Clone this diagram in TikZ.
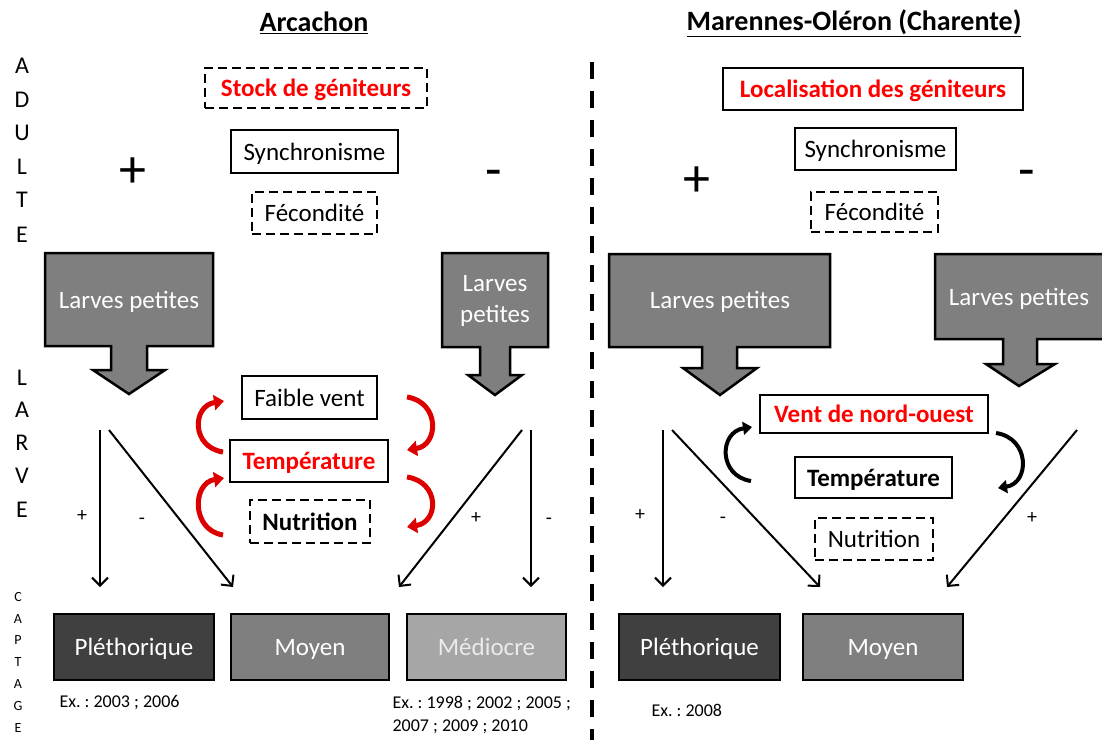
\documentclass[tikz,border=0pt]{standalone}
\usepackage{fontspec}
\setmainfont{Carlito}
\usetikzlibrary{arrows.meta}
\definecolor{blkgray}{HTML}{7F7F7F}
\definecolor{dkgray}{HTML}{404040}
\definecolor{ltgray}{HTML}{A6A6A6}
\definecolor{myred}{HTML}{FF0000}
\definecolor{crvred}{HTML}{DD0000}
\frenchspacing
\begin{document}
\begin{tikzpicture}[x=1pt,y=-1pt,
  f24/.style={font=\fontsize{25}{29}\selectfont, text height=20pt, text depth=3pt},
  box/.style={draw, line width=2pt, inner sep=0pt, f24},
  dbox/.style={box, dash pattern=on 9pt off 5pt},
  redb/.style={text=myred, font=\fontsize{25}{29}\selectfont\bfseries},
  bold/.style={font=\fontsize{25}{29}\selectfont\bfseries},
  blk/.style={draw, line width=2.5pt, fill=blkgray, line join=miter},
  wtxt/.style={text=white, f24, align=center},
  res/.style={draw, line width=1.5pt, text=white, f24, inner sep=0pt, minimum height=66pt},
  conn/.style={line width=2pt, -{Straight Barb[length=8pt,width=16pt,line width=2pt]}},
  curvr/.style={line width=5pt, crvred, -{Triangle[length=10pt,width=15pt]}},
  curvb/.style={line width=4pt, black, -{Triangle[length=9pt,width=13pt]}},
  letter/.style={font=\fontsize{24}{28}\selectfont, anchor=center},
  small/.style={font=\fontsize{14}{16}\selectfont},
  ex/.style={font=\fontsize{18}{23}\selectfont, anchor=west, align=left},
  bigsign/.style={font=\fontsize{54}{60}\selectfont},
  sign/.style={font=\fontsize{20}{24}\selectfont},
  title/.style={font=\fontsize{28}{32}\selectfont\bfseries}
]
\useasboundingbox (0,0) rectangle (1102,740);

% titles
\node[title] (t1) at (314,23) {\underline{Arcachon}};
\node[title] (t2) at (854,23) {\underline{Marennes-Oléron (Charente)}};

% separator
\draw[line width=4pt, dash pattern=on 17pt off 12pt] (592,62) -- (592,740);

% side letters
\foreach \l/\y in {A/66,D/100,U/133,L/167,T/200,E/235}{\node[letter] at (22,\y) {\l};}
\foreach \l/\y in {L/378,A/410,R/443,V/476,E/510}{\node[letter] at (22,\y) {\l};}
\foreach \l/\y in {C/597,A/619,P/640,T/662,A/684,G/706,E/728}{\node[small] at (18,\y) {\l};}

% adult factors left
\node[dbox, redb, minimum width=222pt, minimum height=40pt] (stock) at (316,88) {Stock de géniteurs};
\node[box, minimum width=167pt, minimum height=43pt] (sync1) at (314.5,151.5) {Synchronisme};
\node[dbox, minimum width=125pt, minimum height=42pt] (fec1) at (314.5,213) {Fécondité};
\node[bigsign] (pl1) at (133,173) {+};
\node[bigsign] (mi1) at (494,179) {-};

% adult factors right
\node[box, redb, minimum width=300pt, minimum height=42pt] (loc) at (873,89) {Localisation des géniteurs};
\node[box, minimum width=161pt, minimum height=42pt] (sync2) at (875.5,149) {Synchronisme};
\node[dbox, minimum width=127pt, minimum height=40pt] (fec2) at (874.5,212) {Fécondité};
\node[bigsign] (pl2) at (697,182) {+};
\node[bigsign] (mi2) at (1027,179) {-};

% block arrows
\draw[blk] (45,253) -- (213,253) -- (213,346) -- (147,346) -- (147,370) -- (165,370) -- (129,394) -- (93,370) -- (111,370) -- (111,346) -- (45,346) -- cycle;
\node[wtxt] (lp1) at (129,300) {Larves petites};
\draw[blk] (442,253) -- (548,253) -- (548,347) -- (510,347) -- (510,375) -- (522,375) -- (495,395) -- (468,375) -- (480,375) -- (480,347) -- (442,347) -- cycle;
\node[wtxt, font=\fontsize{25}{31}\selectfont, text height=, text depth=] (lp2) at (495,301) {Larves\\petites};
\draw[blk] (609,254) -- (830,254) -- (830,347) -- (737,347) -- (737,368) -- (757,368) -- (720,395) -- (683,368) -- (702,368) -- (702,347) -- (609,347) -- cycle;
\node[wtxt] (lp3) at (720,300) {Larves petites};
\draw[blk] (935,254) -- (1106,254) -- (1106,339) -- (1037,339) -- (1037,364) -- (1055,364) -- (1019,386) -- (986,364) -- (1003,364) -- (1003,339) -- (935,339) -- cycle;
\node[wtxt] (lp4) at (1019,297) {Larves petites};

% larval factors left
\node[box, minimum width=135pt, minimum height=43pt] (faible) at (309.5,397.5) {Faible vent};
\node[box, redb, minimum width=158pt, minimum height=42pt] (temp1) at (309,461) {Température};
\node[dbox, bold, minimum width=120pt, minimum height=43pt] (nutr1) at (310,521.5) {Nutrition};

% larval factors right
\node[box, redb, minimum width=228pt, minimum height=38pt] (vent) at (874,414) {Vent de nord-ouest};
\node[box, bold, minimum width=157pt, minimum height=41pt] (temp2) at (873.5,477.5) {Température};
\node[dbox, minimum width=118pt, minimum height=42pt] (nutr2) at (874,539) {Nutrition};

% curved arrows
\coordinate (cl1s) at (223,452); \coordinate (cl1e) at (224,401);
\coordinate (cl2s) at (223,535); \coordinate (cl2e) at (224,478);
\coordinate (cr1s) at (407,397); \coordinate (cr1e) at (407,450);
\coordinate (cr2s) at (407,477); \coordinate (cr2e) at (407,527);
\draw[curvr] (cl1s) .. controls (191,447) and (192,406) .. (cl1e);
\draw[curvr] (cl2s) .. controls (191,530) and (192,483) .. (cl2e);
\draw[curvr] (cr1s) .. controls (440,402) and (439,445) .. (cr1e);
\draw[curvr] (cr2s) .. controls (440,482) and (439,522) .. (cr2e);
\coordinate (bl1s) at (751,481); \coordinate (bl1e) at (752,427);
\coordinate (br1s) at (996,433); \coordinate (br1e) at (998,488);
\draw[curvb] (bl1s) .. controls (718,476) and (719,432) .. (bl1e);
\draw[curvb] (br1s) .. controls (1030,438) and (1030,483) .. (br1e);

% result boxes
\node[res, fill=dkgray, minimum width=160pt] (p1) at (134,647) {Pléthorique};
\node[res, fill=blkgray, minimum width=158pt] (m1) at (310,647) {Moyen};
\node[res, fill=ltgray, minimum width=159pt, text=white!92!black] (md1) at (486.5,647) {Médiocre};
\node[res, fill=dkgray, minimum width=161pt] (p2) at (699.5,647) {Pléthorique};
\node[res, fill=blkgray, minimum width=160pt] (m2) at (883,647) {Moyen};

% straight connectors
\coordinate (s1) at (100,430); \coordinate (e1) at (100,587);
\coordinate (s2) at (109,430); \coordinate (e2) at (233,587);
\coordinate (s3) at (522,430); \coordinate (e3) at (399,587);
\coordinate (s4) at (531,430); \coordinate (e4) at (531,587);
\coordinate (s5) at (663,430); \coordinate (e5) at (663,587);
\coordinate (s6) at (672,430); \coordinate (e6) at (820,587);
\coordinate (s7) at (1077,430); \coordinate (e7) at (947,587);
\draw[conn] (s1) -- (e1);
\draw[conn] (s2) -- (e2);
\draw[conn] (s3) -- (e3);
\draw[conn] (s4) -- (e4);
\draw[conn] (s5) -- (e5);
\draw[conn] (s6) -- (e6);
\draw[conn] (s7) -- (e7);
\node[sign] (sp1) at (82,516) {+};
\node[sign] (sm1) at (142,521) {-};
\node[sign] (sp2) at (476,518) {+};
\node[sign] (sm2) at (549,521) {-};
\node[sign] (sp3) at (640,515) {+};
\node[sign] (sm3) at (723,520) {-};
\node[sign] (sp4) at (1032,518) {+};

% examples
\node[ex] (x1) at (56,703) {Ex. : 2003 ; 2006};
\node[ex] (x2) at (389,715) {Ex. : 1998 ; 2002 ; 2005 ;\\2007 ; 2009 ; 2010};
\node[ex] (x3) at (648,710) {Ex. : 2008};
\end{tikzpicture}
\end{document}
